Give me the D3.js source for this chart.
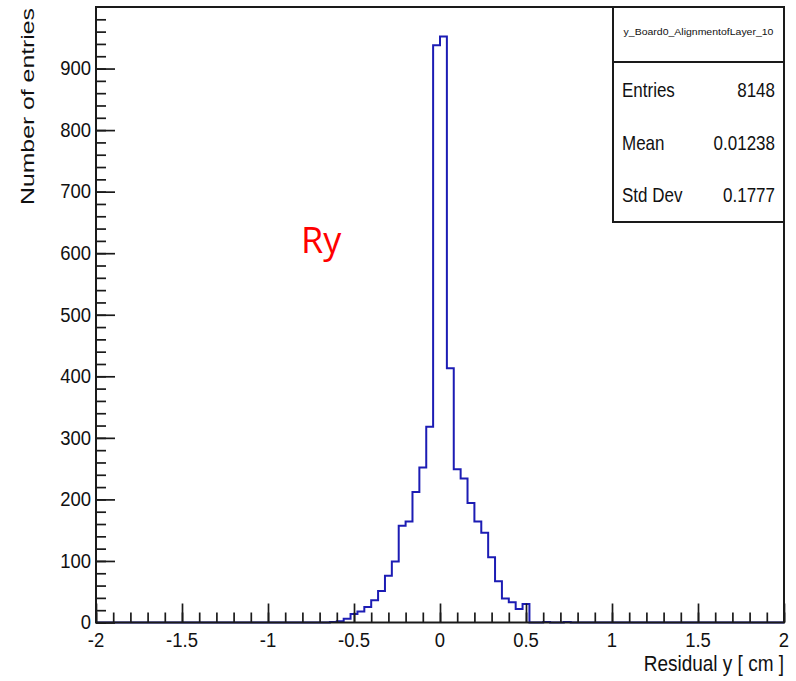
<!DOCTYPE html>
<html>
<head>
<meta charset="utf-8">
<script src="https://cdn.jsdelivr.net/npm/d3@7"></script>
<style>
  html, body { margin: 0; padding: 0; background: #fff; }
  svg { display: block; }
  text { font-family: "Liberation Sans", Arial, sans-serif; fill: #111; }
</style>
</head>
<body>
<svg id="chart" width="796" height="681"></svg>
<script>
// ---- data ----
const binLowEdges = [-0.64, -0.60, -0.56, -0.52, -0.48, -0.44, -0.40, -0.36, -0.32, -0.28,
  -0.24, -0.20, -0.16, -0.12, -0.08, -0.04, 0.00, 0.04, 0.08, 0.12,
  0.16, 0.20, 0.24, 0.28, 0.32, 0.36, 0.40, 0.44, 0.48, 0.52,
  0.56, 0.60, 0.64, 0.68, 0.72];
const counts = [1, 2, 6, 14, 18, 25, 36, 51, 76, 99,
  157, 164, 212, 252, 318, 938, 952, 413, 249, 234,
  194, 164, 146, 106, 67, 39, 33, 22, 30, 0,
  0, 1, 0, 0, 1];
const binWidth = 0.04;
const xDomain = [-2, 2];
const yDomain = [0, 1000];
const xMajorTicks = [-2, -1.5, -1, -0.5, 0, 0.5, 1, 1.5, 2];
const xTickLabels = ["-2", "-1.5", "-1", "-0.5", "0", "0.5", "1", "1.5", "2"];
const yMajorTicks = [0, 100, 200, 300, 400, 500, 600, 700, 800, 900];
const yTickLabels = ["0", "100", "200", "300", "400", "500", "600", "700", "800", "900"];
const statsTitle = "y_Board0_AlignmentofLayer_10";
const statsNames = ["Entries", "Mean", "Std Dev"];
const statsValues = ["8148", "0.01238", "0.1777"];
const xTitle = "Residual y [ cm ]";
const yTitle = "Number of entries";
const annotation = "Ry";

// ---- layout ----
const L = 96, R = 784, T = 7, B = 622.5;
const svg = d3.select("#chart");
const x = d3.scaleLinear().domain(xDomain).range([L, R]);
const y = d3.scaleLinear().domain(yDomain).range([B, T]);

// full histogram (all bins from -2 to 2)
const nBins = Math.round((xDomain[1] - xDomain[0]) / binWidth);
const full = d3.range(nBins).map(i => ({ x0: xDomain[0] + i * binWidth, v: 0 }));
binLowEdges.forEach((e, i) => {
  const k = Math.round((e - xDomain[0]) / binWidth);
  full[k].v = counts[i];
});
const pts = full.map(d => [d.x0, d.v]);
pts.push([xDomain[1], full[full.length - 1].v]);
const line = d3.line().x(d => x(d[0])).y(d => y(d[1])).curve(d3.curveStepAfter);
svg.append("path").attr("d", line(pts))
  .attr("fill", "none").attr("stroke", "#1c1cb4").attr("stroke-width", 2);

// ---- axes ----
const axisColor = "#1a1a1a";
const yMinor = d3.range(0, 1000, 20);
const gyMinor = svg.append("g").attr("transform", `translate(${L},0)`)
  .call(d3.axisRight(y).tickValues(yMinor).tickSize(10).tickFormat(""));
const gyMajor = svg.append("g").attr("transform", `translate(${L},0)`)
  .call(d3.axisRight(y).tickValues(yMajorTicks).tickSize(19).tickFormat(""));
const xMinor = d3.range(-2, 2.0001, 0.1).map(v => +v.toFixed(2));
const gxMinor = svg.append("g").attr("transform", `translate(0,${B})`)
  .call(d3.axisTop(x).tickValues(xMinor).tickSize(10).tickFormat(""));
const gxMajor = svg.append("g").attr("transform", `translate(0,${B})`)
  .call(d3.axisTop(x).tickValues(xMajorTicks).tickSize(19).tickFormat(""));
[gyMinor, gyMajor, gxMinor, gxMajor].forEach(g => {
  g.select(".domain").remove();
  g.selectAll("line").attr("stroke", axisColor).attr("stroke-width", 1.7);
});

// frame
svg.append("rect").attr("x", L).attr("y", T).attr("width", R - L).attr("height", B - T)
  .attr("fill", "none").attr("stroke", axisColor).attr("stroke-width", 2);

// tick labels
const fs = 18.5, sy = 1.12;
yMajorTicks.forEach((v, i) => {
  svg.append("text")
    .attr("transform", `translate(${L - 5},${y(v) + 6.8}) scale(1,${sy})`)
    .attr("text-anchor", "end").attr("font-size", fs).text(yTickLabels[i]);
});
xMajorTicks.forEach((v, i) => {
  svg.append("text")
    .attr("transform", `translate(${x(v)},${647}) scale(1,${sy})`)
    .attr("text-anchor", "middle").attr("font-size", fs).text(xTickLabels[i]);
});

// axis titles
svg.append("text")
  .attr("transform", `translate(${R},${671}) scale(1,${sy})`)
  .attr("text-anchor", "end").attr("font-size", 19).text(xTitle);
svg.append("text")
  .attr("transform", `translate(34,${T + 1}) rotate(-90)`)
  .attr("text-anchor", "end").attr("font-size", 18)
  .attr("textLength", 197).attr("lengthAdjust", "spacingAndGlyphs")
  .text(yTitle);

// stats box
const bx0 = 613, bx1 = R, by0 = T, by1 = 222, bdiv = 62;
svg.append("rect").attr("x", bx0).attr("y", by0).attr("width", bx1 - bx0).attr("height", by1 - by0)
  .attr("fill", "#fff").attr("stroke", axisColor).attr("stroke-width", 2);
svg.append("line").attr("x1", bx0).attr("x2", bx1).attr("y1", bdiv).attr("y2", bdiv)
  .attr("stroke", axisColor).attr("stroke-width", 2);
svg.append("text")
  .attr("transform", `translate(${(bx0 + bx1) / 2},${35}) scale(1,0.8)`)
  .attr("text-anchor", "middle").attr("font-size", 10.5).text(statsTitle);
const rowBase = [96.5, 150, 201.5];
statsNames.forEach((n, i) => {
  svg.append("text")
    .attr("transform", `translate(${bx0 + 9},${rowBase[i]}) scale(1,1.18)`)
    .attr("font-size", 17).text(n);
  svg.append("text")
    .attr("transform", `translate(${bx1 - 9},${rowBase[i]}) scale(1,1.18)`)
    .attr("text-anchor", "end").attr("font-size", 17).text(statsValues[i]);
});

// annotation
svg.append("text").attr("x", 301).attr("y", 253)
  .style("font-family", "'Open Sans', 'Noto Sans', sans-serif")
  .style("fill", "#ff0000").attr("font-size", 36).text(annotation);
</script>
</body>
</html>
